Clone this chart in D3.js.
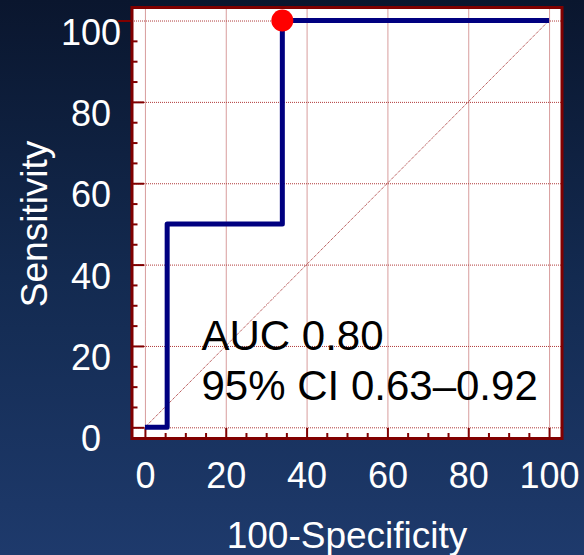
<!DOCTYPE html>
<html>
<head>
<meta charset="utf-8">
<script src="https://cdn.jsdelivr.net/npm/d3@7"></script>
<style>
  html, body { margin: 0; padding: 0; background: #0b1730; }
  svg { display: block; }
  text { font-family: "Liberation Sans", Arial, sans-serif; }
</style>
</head>
<body>
<svg id="chart" width="584" height="555"></svg>
<script>
// ---- data ----
const rocFpr = [0, 5.5, 5.5, 34, 34, 100];      // 100-Specificity
const rocTpr = [0, 0, 50, 50, 100, 100];         // Sensitivity
const cutoffPoint = [34, 100];
const majorTicks = [0, 20, 40, 60, 80, 100];
const minorTicks = [5, 10, 15, 25, 30, 35, 45, 50, 55, 65, 70, 75, 85, 90, 95];
const xTitle = "100-Specificity";
const yTitle = "Sensitivity";
const annotLines = ["AUC 0.80", "95% CI 0.63\u20130.92"];

// ---- layout ----
const W = 584, H = 555;
const frame = { left: 132, right: 562, top: 7.5, bottom: 438.5 };
const x = d3.scaleLinear().domain([-3.2, 103.2]).range([frame.left, frame.right]);
const y = d3.scaleLinear().domain([-2.75, 103.2]).range([frame.bottom, frame.top]);

const svg = d3.select("#chart");
const defs = svg.append("defs");
const grad = defs.append("linearGradient").attr("id", "bg")
  .attr("x1", 0).attr("y1", 0).attr("x2", 0).attr("y2", 1);
grad.append("stop").attr("offset", "0%").attr("stop-color", "#0a162e");
grad.append("stop").attr("offset", "50%").attr("stop-color", "#132a50");
grad.append("stop").attr("offset", "100%").attr("stop-color", "#1e3a6c");
svg.append("rect").attr("width", W).attr("height", H).attr("fill", "url(#bg)");

// plot background
svg.append("rect")
  .attr("x", frame.left).attr("y", frame.top)
  .attr("width", frame.right - frame.left).attr("height", frame.bottom - frame.top)
  .attr("fill", "#ffffff");

const darkRed = "#800000";
const gridColor = "#b03a3a";

// grid (via axes)
const gx = svg.append("g").attr("transform", `translate(0,${frame.bottom})`)
  .call(d3.axisBottom(x).tickValues(majorTicks).tickSize(-(frame.bottom - frame.top)).tickFormat(""));
gx.select(".domain").remove();
gx.selectAll("line").attr("stroke", gridColor).attr("stroke-width", 1).attr("stroke-dasharray", "1,1");

const gy = svg.append("g").attr("transform", `translate(${frame.left},0)`)
  .call(d3.axisLeft(y).tickValues(majorTicks).tickSize(-(frame.right - frame.left)).tickFormat(""));
gy.select(".domain").remove();
gy.selectAll("line").attr("stroke", gridColor).attr("stroke-width", 1).attr("stroke-dasharray", "1,1");

// diagonal reference line
svg.append("line")
  .attr("x1", x(0)).attr("y1", y(0)).attr("x2", x(100)).attr("y2", y(100))
  .attr("stroke", "#a02020").attr("stroke-width", 1).attr("stroke-dasharray", "1,1");

// minor ticks
const mx = svg.append("g").attr("transform", `translate(0,${frame.bottom})`)
  .call(d3.axisBottom(x).tickValues(minorTicks).tickSize(-5.5).tickFormat(""));
mx.select(".domain").remove();
mx.selectAll("line").attr("stroke", darkRed).attr("stroke-width", 2);

const my = svg.append("g").attr("transform", `translate(${frame.left},0)`)
  .call(d3.axisLeft(y).tickValues(minorTicks).tickSize(-5.5).tickFormat(""));
my.select(".domain").remove();
my.selectAll("line").attr("stroke", darkRed).attr("stroke-width", 2);

// major ticks + labels
const ax = svg.append("g").attr("transform", `translate(0,${frame.bottom})`)
  .call(d3.axisBottom(x).tickValues(majorTicks).tickSize(-10.5).tickFormat(d3.format("d")));
ax.select(".domain").remove();
ax.selectAll("line").attr("stroke", darkRed).attr("stroke-width", 2);
ax.selectAll("text")
  .attr("y", 49.5).attr("dy", null)
  .attr("fill", "#ffffff").attr("font-size", 36).attr("text-anchor", "middle");

const ay = svg.append("g").attr("transform", `translate(${frame.left},0)`)
  .call(d3.axisLeft(y).tickValues(majorTicks).tickSize(-12).tickFormat(d3.format("d")));
ay.select(".domain").remove();
ay.selectAll("line").attr("stroke", darkRed).attr("stroke-width", 2)
  .filter(d => d === 100).attr("x2", -14);
ay.selectAll("text")
  .attr("x", -41).attr("dy", "23.5")
  .attr("fill", "#ffffff").attr("font-size", 36).attr("text-anchor", "middle");

// frame border
svg.append("rect")
  .attr("x", frame.left).attr("y", frame.top)
  .attr("width", frame.right - frame.left).attr("height", frame.bottom - frame.top)
  .attr("fill", "none").attr("stroke", darkRed).attr("stroke-width", 3);

// ROC curve
const rocData = rocFpr.map((v, i) => [v, rocTpr[i]]);
svg.append("path")
  .datum(rocData)
  .attr("d", d3.line().x(d => x(d[0])).y(d => y(d[1])))
  .attr("fill", "none").attr("stroke", "#000080").attr("stroke-width", 5)
  .attr("stroke-linejoin", "round");

// cutoff point
svg.append("circle")
  .attr("cx", x(cutoffPoint[0])).attr("cy", y(cutoffPoint[1])).attr("r", 11)
  .attr("fill", "#ff0000");

// annotation
const annot = svg.append("g");
annot.selectAll("text").data(annotLines).join("text")
  .attr("x", x(14)).attr("y", (d, i) => y(18.9) + i * 49.4)
  .attr("font-size", 42).attr("fill", "#000000")
  .text(d => d);

// axis titles
svg.append("text")
  .attr("x", (x(0) + x(100)) / 2).attr("y", 548)
  .attr("text-anchor", "middle").attr("fill", "#ffffff").attr("font-size", 37)
  .text(xTitle);

svg.append("text")
  .attr("transform", `translate(47,${(y(0) + y(100)) / 2}) rotate(-90)`)
  .attr("text-anchor", "middle").attr("fill", "#ffffff").attr("font-size", 37)
  .text(yTitle);
</script>
</body>
</html>
